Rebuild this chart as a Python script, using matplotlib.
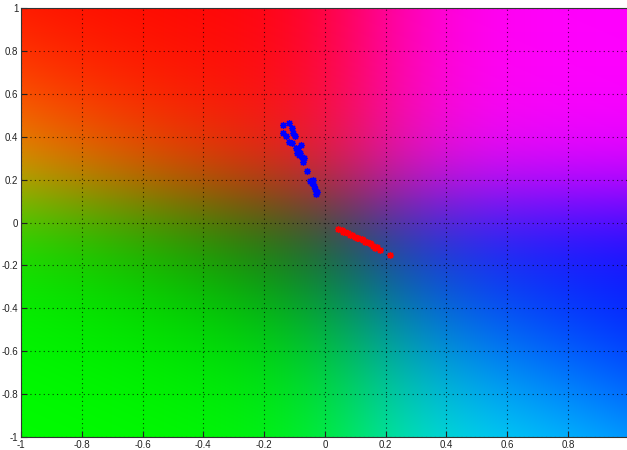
import numpy as np
import matplotlib
matplotlib.use("Agg")
import matplotlib.pyplot as plt

# ---- data ----
blue_x = [-0.139, -0.118, -0.109, -0.137, -0.128, -0.104, -0.099, -0.117, -0.108, -0.078,
          -0.095, -0.088, -0.093, -0.082, -0.076, -0.085, -0.073, -0.060, -0.049, -0.038,
          -0.043, -0.035, -0.033, -0.027, -0.029, -0.070, -0.090]
blue_y = [0.455, 0.462, 0.439, 0.416, 0.403, 0.416, 0.403, 0.377, 0.372, 0.361,
          0.346, 0.338, 0.325, 0.323, 0.307, 0.315, 0.284, 0.240, 0.195, 0.198,
          0.183, 0.170, 0.155, 0.144, 0.133, 0.300, 0.330]
red_x = [0.044, 0.055, 0.066, 0.077, 0.088, 0.099, 0.110, 0.121, 0.126, 0.138,
         0.148, 0.159, 0.170, 0.181, 0.214, 0.060, 0.083, 0.105, 0.132, 0.153, 0.165]
red_y = [-0.030, -0.035, -0.043, -0.050, -0.058, -0.066, -0.074, -0.078, -0.082, -0.089,
         -0.097, -0.110, -0.116, -0.128, -0.152, -0.045, -0.060, -0.070, -0.092, -0.102, -0.120]
ticks = [-1, -0.8, -0.6, -0.4, -0.2, 0, 0.2, 0.4, 0.6, 0.8, 1]
tick_labels = ["-1", "-0.8", "-0.6", "-0.4", "-0.2", "0", "0.2", "0.4", "0.6", "0.8", "1"]

# ---- background colour field ----
def sig(z):
    return 1.0 / (1.0 + np.exp(-z))

n = 400
gx, gy = np.meshgrid(np.linspace(-1, 1, n), np.linspace(-1, 1, n))
R = sig(7.0 * (gy - 0.1))
G = sig(-2.0 * gx - 3.2 * gy - 0.85)
B = sig(6.5 * (gx - 0.15))
img = np.dstack([R, G, B])

fig = plt.figure(figsize=(6.27, 4.5), dpi=100)
ax = fig.add_axes([21 / 627, 1 - 437 / 450, (628.8 - 21) / 627, (437 - 8) / 450])
ax.imshow(img, extent=[-1, 1, -1, 1], origin="lower", aspect="auto", interpolation="bilinear")

ax.plot(blue_x, blue_y, linestyle="none", marker=(8, 2, 0), color="#0000ff", markersize=5, markeredgewidth=0.9)
ax.plot(red_x, red_y, linestyle="none", marker=(8, 2, 0), color="#ff0000", markersize=5, markeredgewidth=0.9)

ax.set_xlim(-1, 1)
ax.set_ylim(-1, 1)
ax.set_xticks(ticks[:-1])
ax.set_xticklabels(tick_labels[:-1])
ax.set_yticks(ticks)
ax.set_yticklabels(tick_labels)
ax.grid(True, color="black", linestyle=(0, (1, 3)), linewidth=0.8, alpha=0.7)
ax.tick_params(direction="in", length=4, labelsize=7, colors="#222222", pad=2)
for s in ax.spines.values():
    s.set_color("#333333")
    s.set_linewidth(0.8)
ax.spines["right"].set_visible(False)
for lab in ax.get_xticklabels() + ax.get_yticklabels():
    lab.set_family("Liberation Sans")

fig.savefig("out.png", dpi=100)
